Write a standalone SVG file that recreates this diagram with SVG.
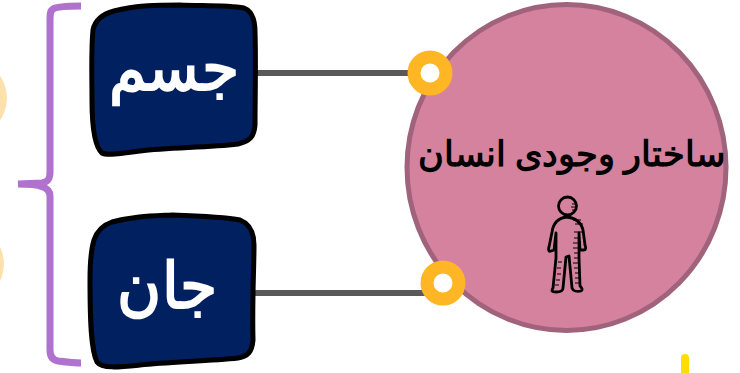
<svg xmlns="http://www.w3.org/2000/svg" width="740" height="373" viewBox="0 0 740 373">
<style>
.box{fill:#002060;stroke:#000;stroke-width:5;stroke-linejoin:round}
.wt{fill:#fff;font-family:"Liberation Serif","Noto Sans",serif;font-weight:bold;text-anchor:middle}
.ring{fill:#fff;stroke:#FFB625;stroke-width:13}
.conn{stroke:#595959;stroke-width:6;fill:none}
.fig{fill:none;stroke:#000;stroke-width:2.8;stroke-linejoin:round;stroke-linecap:round}
.hatch{fill:none;stroke:#000;stroke-width:1.2}
</style>
<rect width="740" height="373" fill="#fff"/>
<g id="side-decor">
<circle cx="-32" cy="98" r="39" fill="#FCE1AC"/>
<circle cx="-34" cy="264" r="38" fill="#FCE1AC"/>
<rect x="681" y="354" width="8" height="30" rx="4" fill="#FFDD00"/>
</g>
<g id="bracket">
<path d="M81 6C66 6 56 7 53 9 50 11 50 14 50 20V172C50 179 48 182 42 183L18 184C40 184 50 187 50 196V350C50 356 52 360 58 361 66 362 74 363 81 363" fill="none" stroke="#B072CF" stroke-width="7"/>
</g>
<g id="connectors">
<line class="conn" x1="255" y1="73" x2="412" y2="73"/>
<line class="conn" x1="255" y1="293" x2="428" y2="293"/>
</g>
<g id="node-human">
<ellipse cx="566.5" cy="167.5" rx="159.5" ry="163" fill="#D5829F" stroke="#A1637C" stroke-width="5"/>
<text transform="translate(571.5 166) scale(1.005 1)" font-family="'Liberation Serif','Noto Sans',serif" font-weight="bold" font-size="34.6" text-anchor="middle" direction="rtl" fill="#000">ساختار وجودی انسان</text>
<g id="figure">
<circle class="fig" cx="567.5" cy="206" r="9"/>
<path class="fig" d="M567 217C556 218 553 225 552 232L549 247C548 250 549 252 551 251L554 250 556 233 556 258 553 288C551 291 552 292 556 292 560 292 563 291 563 288L566 257 569 256 572 288C573 291 577 292 581 291 583 290 582 288 580 286L579 258 579 233 580 250 584 250C586 250 586 248 585 245L583 230C581 222 576 218 567 217Z"/>
<path class="hatch" d="M572 204h5M571 207h6M572 210h4M573 220h8M575 224h8M574 232h8M574 238h5M573 243h6M573 248h6M574 253h5M574 258h5M573 263h6M574 268h5M575 273h4M575 278h4M575 283h5M558 262h4M557 268h4M557 274h4M556 280h4M555 285h4"/>
</g>
</g>
<g id="node-jism">
<path class="box" d="M114 11C136 5 160 5 180 5 202 6 226 5 244 8 252 11 255 20 255 32 256 60 255 100 255 125 254 137 250 141 238 144 205 148 170 147 140 151 125 153 107 156 102 153 95 147 92 128 92 100 92 75 91 50 93 30 95 20 103 14 114 11Z"/>
<text class="wt" transform="translate(173.5 90) scale(.94 1)" font-size="64" direction="rtl">جسم</text>
</g>
<g id="node-jan">
<path class="box" d="M112 222C135 216 150 216 172 215 200 216 225 217 240 220 250 224 254 232 254 245 254 270 252 300 253 340 252 352 248 356 238 358 210 361 170 362 140 365 120 367 102 369 97 362 91 350 90 320 90 280 90 265 91 250 94 240 97 231 103 225 112 222Z"/>
<text class="wt" transform="translate(167 308) scale(.94 1)" font-size="64" direction="rtl">جان</text>
</g>
<g id="rings">
<circle class="ring" cx="430" cy="73" r="16"/>
<circle class="ring" cx="443" cy="283" r="16"/>
</g>
</svg>
